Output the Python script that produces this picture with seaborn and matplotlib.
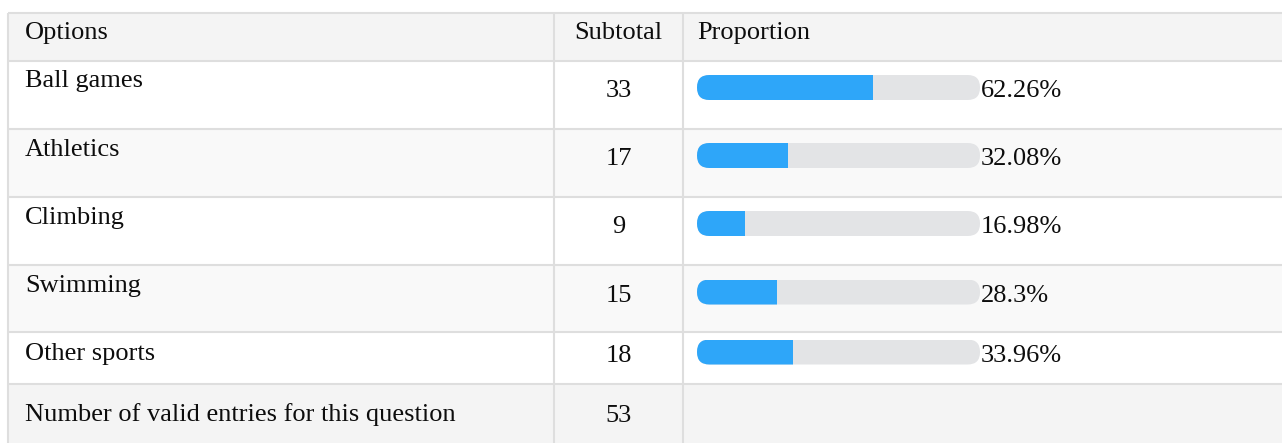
import numpy as np
import pandas as pd
import matplotlib
matplotlib.use('Agg')
import matplotlib.pyplot as plt
from matplotlib.patches import FancyBboxPatch
import seaborn as sns

# Survey data
options = ['Ball games', 'Athletics', 'Climbing', 'Swimming', 'Other sports']
subtotals = [33, 17, 9, 15, 18]
proportions = [62.26, 32.08, 16.98, 28.3, 33.96]
valid_label = 'Number of valid entries for this question'
valid_total = 53
headers = ['Options', 'Subtotal', 'Proportion']

df = pd.DataFrame({'option': options, 'subtotal': subtotals, 'proportion': proportions})

sns.set_style('white')
plt.rcParams['font.family'] = ['Liberation Serif', 'DejaVu Serif']

W, H = 1282, 443
fig = plt.figure(figsize=(W / 100, H / 100), dpi=100)
ax = fig.add_axes([0, 0, 1, 1])
ax.set_xlim(0, W)
ax.set_ylim(H, 0)
ax.set_axis_off()

# table layout (pixels)
left, col1, col2 = 8, 554, 683
row_edges = [13, 61, 129, 197, 265, 332, 384, 443]
row_colors = ['#f4f4f4', '#ffffff', '#f9f9f9', '#ffffff', '#f9f9f9', '#ffffff', '#f4f4f4']
label_base = [39, 87, 156, 224, 292, 360, 421]
num_base = [39, 97, 165, 233, 301.5, 361.5, 422]
line_col = '#dedede'
text_col = '#0d0d0d'
fs = 19

for i, c in enumerate(row_colors):
    ax.axhspan(row_edges[i], row_edges[i + 1], xmin=left / W, xmax=1, color=c, lw=0, zorder=0)
ax.hlines(row_edges[:-1], left, W, color=line_col, lw=1.5, zorder=1)
ax.vlines([left, col1, col2], row_edges[0], H, color=line_col, lw=1.5, zorder=1)

# header
ax.text(25, label_base[0], headers[0], fontsize=fs, color=text_col, va='baseline')
ax.text((col1 + col2) / 2, num_base[0], headers[1], fontsize=fs, color=text_col, va='baseline', ha='center')
ax.text(697, num_base[0], headers[2], fontsize=fs, color=text_col, va='baseline')

# body
bar_x0, bar_w, bar_h = 697, 283, 25
blue, track_col = '#2ea6f9', '#e3e4e6'
for i, row in df.iterrows():
    ax.text(25, label_base[i + 1], row['option'], fontsize=fs, color=text_col, va='baseline')
    ax.text((col1 + col2) / 2, num_base[i + 1], str(row['subtotal']), fontsize=fs,
            color=text_col, va='baseline', ha='center')
    ax.text(bar_x0 + bar_w + 1, num_base[i + 1], f"{row['proportion']:g}%", fontsize=fs,
            color=text_col, va='baseline')

    cy = num_base[i + 1] - 9.5
    bax = fig.add_axes([bar_x0 / W, 1 - (cy + bar_h / 2) / H, bar_w / W, bar_h / H])
    sub = df.iloc[[i]].assign(share=lambda d: d['proportion'] / 100)
    sns.barplot(data=sub, x='share', y='option', orient='h', color=blue, width=1,
                saturation=1, ax=bax)
    bars = list(bax.patches)
    track = FancyBboxPatch((0, 0), 1, 1, boxstyle=f"round,pad=0,rounding_size={12.3 / bar_w}",
                           mutation_aspect=bar_w / bar_h, transform=bax.transAxes,
                           facecolor=track_col, edgecolor='none', zorder=0)
    bax.add_patch(track)
    for b in bars:
        b.set_linewidth(0)
        b.set_zorder(1)
        b.set_clip_path(track)
    bax.set_xlim(0, 1)
    bax.set_ylim(0.5, -0.5)
    bax.set_axis_off()

# total row
ax.text(25, label_base[-1], valid_label, fontsize=fs, color=text_col, va='baseline')
ax.text((col1 + col2) / 2, num_base[-1], str(valid_total), fontsize=fs, color=text_col,
        va='baseline', ha='center')

fig.savefig('out.png', dpi=100)
